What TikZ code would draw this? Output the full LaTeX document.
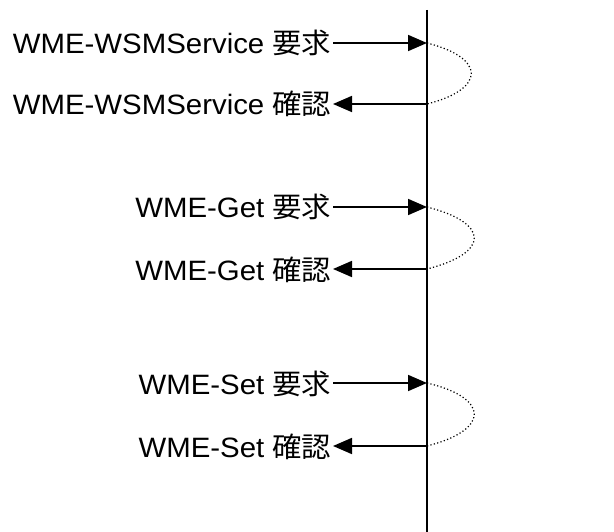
\documentclass[tikz,border=0pt]{standalone}
\usepackage{fontspec}
\usepackage{graphicx}
\setmainfont{Liberation Sans}
\newfontfamily\cjk{Noto Sans CJK JP}
\usetikzlibrary{arrows.meta}

% primitive label: slightly widened sans text, right-aligned at the arrow end
\newcommand{\primlabel}[2]{\scalebox{1.05}[1]{#1 {\cjk #2}}}

\tikzset{
  prim/.style={anchor=base east, inner sep=1.5pt, font=\fontsize{28}{32}\selectfont},
  msg/.style={line width=1.7pt, -{Triangle[length=19pt,width=16pt]}},
  lifeline/.style={line width=1.8pt},
  loopback/.style={line width=1.2pt, dash pattern=on 1.2pt off 2.3pt},
}

\begin{document}
\begin{tikzpicture}[x=1pt, y=-1pt]
  \useasboundingbox (0,0) rectangle (614,532);

  % the layer boundary
  \coordinate (top) at (427,10);
  \coordinate (bot) at (427,532);
  \draw[lifeline] (top) -- (bot);

  % points where requests arrive and confirms leave
  \coordinate (q1) at (427,43);  \coordinate (p1) at (427,104);
  \coordinate (q2) at (427,207); \coordinate (p2) at (427,269);
  \coordinate (q3) at (427,383); \coordinate (p3) at (427,446);

  % primitive names
  \node[prim] (r1) at (333,54)  {\primlabel{WME-WSMService}{要求}};
  \node[prim] (c1) at (333,115) {\primlabel{WME-WSMService}{確認}};
  \node[prim] (r2) at (333,218) {\primlabel{WME-Get}{要求}};
  \node[prim] (c2) at (333,280) {\primlabel{WME-Get}{確認}};
  \node[prim] (r3) at (333,394) {\primlabel{WME-Set}{要求}};
  \node[prim] (c3) at (333,457) {\primlabel{WME-Set}{確認}};

  % request and confirm arrows
  \foreach \i in {1,2,3} {
    \draw[msg] (r\i.east |- q\i) -- (q\i);
    \draw[msg] (p\i) -- (c\i.east |- p\i);
  }

  % dotted turnaround from each request to its confirm
  \draw[loopback] (q1) .. controls (486,58) and (486,89) .. (p1);
  \draw[loopback] (q2) .. controls (490,223) and (490,253) .. (p2);
  \draw[loopback] (q3) .. controls (490,398) and (490,430) .. (p3);
\end{tikzpicture}
\end{document}
